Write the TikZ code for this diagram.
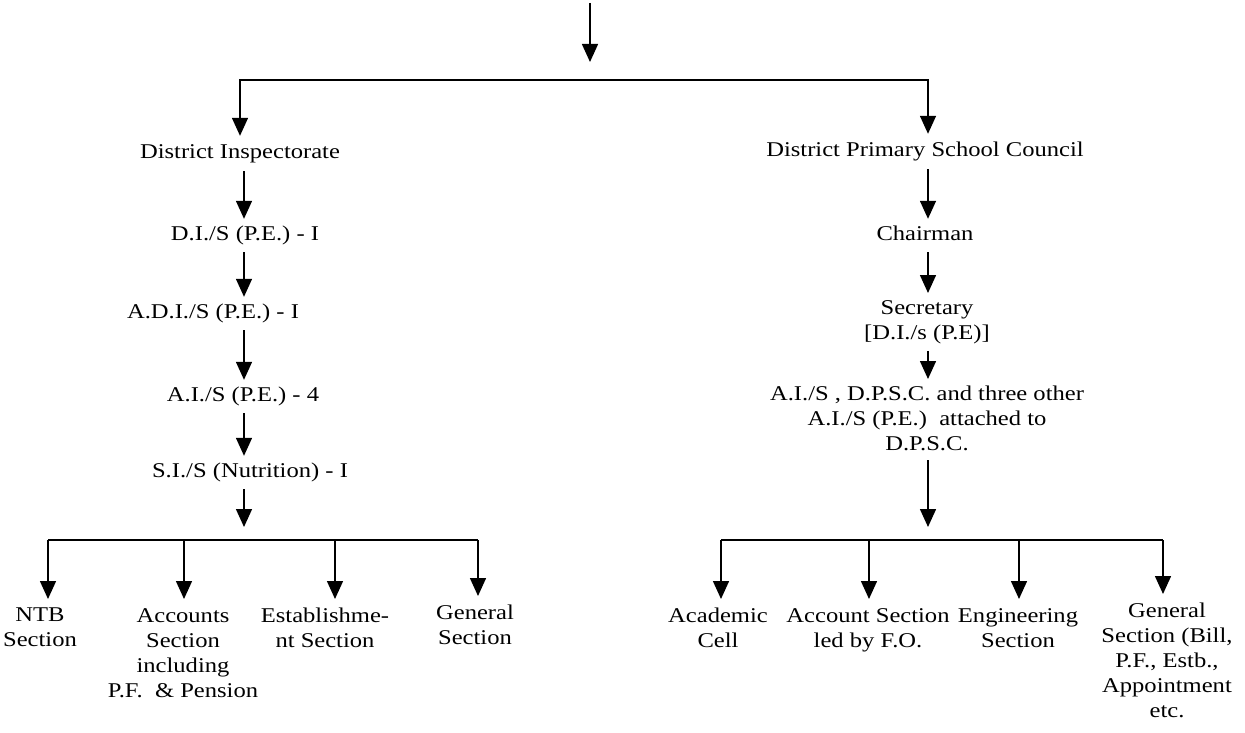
\documentclass[tikz,border=0pt]{standalone}
\usepackage{fontspec}
\setmainfont{Liberation Serif}[FakeStretch=1.17]
\usetikzlibrary{arrows.meta}

\begin{document}
\begin{tikzpicture}[x=1pt,y=-1pt,
  every node/.style={font=\fontsize{21}{25}\selectfont, inner sep=0pt},
  post/.style={anchor=base, text height=14pt, text depth=5pt},
  block/.style={anchor=north, align=center},
  link/.style={line width=1.5pt},
  arr/.style={link, -{Triangle[length=18pt,width=16pt]}},
  gap/.style={arr, shorten <=7pt, shorten >=7pt},
  drop/.style={arr, shorten >=9pt},
]
\useasboundingbox (0,0) rectangle (1245,733);

% column axes and bar points
\coordinate (colL) at (244,0);
\coordinate (colR) at (928,0);
\coordinate (src) at (590,3);
\coordinate (srctip) at (590,62);
\coordinate (barmid) at (590,80);

% ---- left branch: District Inspectorate ----
\node[post] (di)   at (240,159) {District Inspectorate};
\node[post] (dis)  at (245,240) {D.I./S (P.E.) - I};
\node[post] (adis) at (213,318) {A.D.I./S (P.E.) - I};
\node[post] (ais)  at (243,401) {A.I./S (P.E.) - 4};
\node[post] (sis)  at (250,477) {S.I./S (Nutrition) - I};
\coordinate (ltip) at (244,527);

\node[block] (ntb)  at (40,608)  {NTB\\Section};
\node[block] (acc)  at (183,608) {Accounts\\Section\\including\\P.F.\ \ \& Pension};
\node[block] (est)  at (325,608) {Establishme-\\nt Section};
\node[block] (genl) at (475,605) {General\\Section};
\coordinate (lb1) at (48,540);
\coordinate (lb2) at (184,540);
\coordinate (lb3) at (335,540);
\coordinate (lb4) at (478,540);

% ---- right branch: District Primary School Council ----
\node[post]  (dpsc) at (925,157) {District Primary School Council};
\node[post]  (chair) at (925,240) {Chairman};
\node[block] (secy) at (927,300) {Secretary\\{}[D.I./s (P.E)]};
\node[block] (aisr) at (927,386) {A.I./S , D.P.S.C. and three other\\A.I./S (P.E.)\ \ attached to\\D.P.S.C.};
\coordinate (rtip) at (928,527);

\node[block] (acad) at (718,608)  {Academic\\Cell};
\node[block] (acct) at (868,608)  {Account Section\\led by F.O.};
\node[block] (engg) at (1018,608) {Engineering\\Section};
\node[block] (genr) at (1167,603) {General\\Section (Bill,\\P.F., Estb.,\\Appointment\\etc.};
\coordinate (rb1) at (721,540);
\coordinate (rb2) at (869,540);
\coordinate (rb3) at (1019,540);
\coordinate (rb4) at (1163,540);

% ---- connectors ----
\draw[arr] (src) -- (srctip);
\draw[arr, shorten >=9pt] (barmid) -| (di.north);
\draw[arr, shorten >=9pt] (barmid) -| (dpsc.north -| colR);

\draw[gap] (di.south -| colL)   -- (dis.north -| colL);
\draw[gap] (dis.south -| colL)  -- (adis.north -| colL);
\draw[gap] (adis.south -| colL) -- (ais.north -| colL);
\draw[gap] (ais.south -| colL)  -- (sis.north -| colL);
\draw[arr, shorten <=7pt] (sis.south -| colL) -- (ltip);

\draw[link] (lb1) -- (lb4);
\draw[drop] (lb1) -- (ntb.north -| lb1);
\draw[drop] (lb2) -- (acc.north -| lb2);
\draw[drop] (lb3) -- (est.north -| lb3);
\draw[drop] (lb4) -- (genl.north -| lb4);

\draw[gap] (dpsc.south -| colR)  -- (chair.north -| colR);
\draw[gap] (chair.south -| colR) -- (secy.north -| colR);
\draw[gap] (secy.south -| colR)  -- (aisr.north -| colR);
\draw[arr, shorten <=9pt] (aisr.south -| colR) -- (rtip);

\draw[link] (rb1) -- (rb4);
\draw[drop] (rb1) -- (acad.north -| rb1);
\draw[drop] (rb2) -- (acct.north -| rb2);
\draw[drop] (rb3) -- (engg.north -| rb3);
\draw[drop] (rb4) -- (genr.north -| rb4);
\end{tikzpicture}
\end{document}
